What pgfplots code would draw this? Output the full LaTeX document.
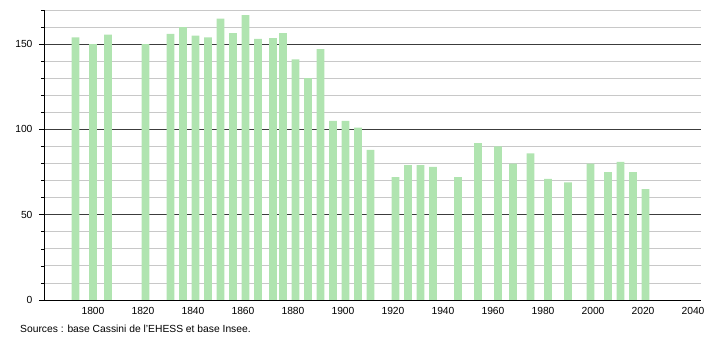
\documentclass[border=0pt]{standalone}
\usepackage{fontspec}
\setmainfont{Liberation Sans}
\usepackage{pgfplots}
\pgfplotsset{compat=1.18}
\definecolor{barg}{RGB}{176,228,176}
\definecolor{gridl}{RGB}{200,200,200}
\definecolor{gridd}{RGB}{60,60,60}
\begin{document}
\begin{tikzpicture}[x=1pt,y=1pt]
\begin{axis}[name=ax,
  at={(0,0)}, anchor=south west,
  scale only axis, width=657pt, height=290pt,
  xmin=1780.4, xmax=2043.2, ymin=0, ymax=170,
  axis x line*=bottom, axis y line*=left,
  axis line style={black, line width=0.8pt},
  xtick={1800,1820,...,2040},
  ytick={0,50,100,150},
  minor ytick={10,20,...,170},
  xtick style={draw=none},
  ytick style={black, line width=0.6pt},
  major tick length=5pt, minor tick length=3pt,
  tick align=outside,
  ymajorgrids, yminorgrids,
  major grid style={gridd, line width=0.8pt},
  minor grid style={gridl, line width=0.8pt},
  tick label style={font=\fontsize{10.3}{12}\selectfont},
  /pgf/number format/assume math mode=true,
  /pgf/number format/1000 sep={},
  xticklabel style={yshift=1pt},
  yticklabel style={xshift=-3pt},
  clip=false,
]
\addplot[ybar, bar width=7.8pt, fill=barg, draw=none] coordinates {
(1793,154) (1800,150) (1806,155.5) (1821,150) (1831,156) (1836,160)
(1841,155) (1846,154) (1851,165) (1856,156.5) (1861,167) (1866,153)
(1872,153.5) (1876,156.5) (1881,141) (1886,130) (1891,147) (1896,105)
(1901,105) (1906,101) (1911,88) (1921,72) (1926,79) (1931,79)
(1936,78) (1946,72) (1954,92) (1962,90) (1968,80) (1975,86)
(1982,71) (1990,69) (1999,80) (2006,75) (2011,81) (2016,75) (2021,65)
};
\end{axis}
\node[anchor=base west, font=\fontsize{10.3}{12}\selectfont, inner sep=0pt] at (-24,-33) {Sources : base Cassini de l'EHESS et base Insee.};
\path[use as bounding box] (-44,-40) rectangle (666,300);
\end{tikzpicture}
\end{document}
